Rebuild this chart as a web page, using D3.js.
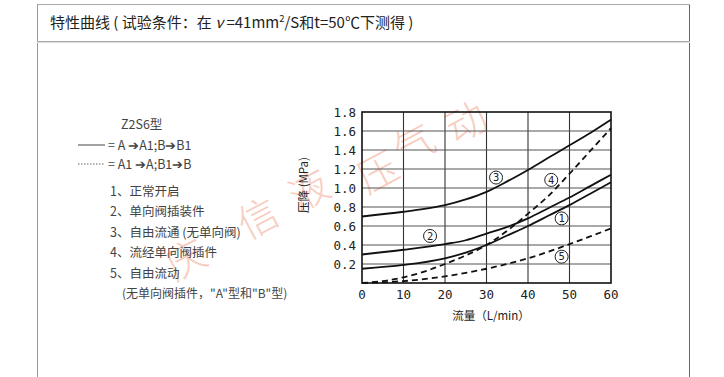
<!DOCTYPE html>
<html>
<head>
<meta charset="utf-8">
<script src="https://cdn.jsdelivr.net/npm/d3@7"></script>
<style>
  html, body { margin: 0; padding: 0; background: #fff; }
  svg { display: block; }
</style>
</head>
<body>
<svg id="chart" width="724" height="377"></svg>
<script>
// 特性曲线 · Z2S6 压降-流量
const xTicks = [0, 10, 20, 30, 40, 50, 60];
const yTicks = [0.2, 0.4, 0.6, 0.8, 1.0, 1.2, 1.4, 1.6, 1.8];

// 各曲线读数 [流量 L/min, 压降 MPa]
const curve1 = [[0, 0.15], [10, 0.19], [20, 0.26], [25, 0.32], [30, 0.40], [35, 0.50], [40, 0.60], [45, 0.71], [50, 0.82], [55, 0.94], [60, 1.06]];
const curve2 = [[0, 0.30], [10, 0.35], [20, 0.41], [25, 0.45], [30, 0.52], [35, 0.59], [40, 0.68], [45, 0.79], [50, 0.90], [55, 1.02], [60, 1.14]];
const curve3 = [[0, 0.70], [10, 0.75], [15, 0.78], [20, 0.82], [25, 0.88], [30, 0.96], [35, 1.07], [40, 1.19], [45, 1.32], [50, 1.45], [55, 1.58], [60, 1.72]];
const curve4 = [[0, 0.00], [5, 0.02], [10, 0.06], [15, 0.12], [20, 0.20], [25, 0.29], [30, 0.40], [35, 0.55], [40, 0.73], [45, 0.92], [50, 1.15], [55, 1.39], [60, 1.63]];
const curve5 = [[0, 0.00], [10, 0.02], [20, 0.07], [30, 0.15], [40, 0.26], [45, 0.33], [50, 0.41], [55, 0.49], [60, 0.575]];

const curveDefs = [
  { id: "1", pts: curve1, dashed: false, label: [48.1, 0.68] },
  { id: "2", pts: curve2, dashed: false, label: [16.4, 0.495] },
  { id: "3", pts: curve3, dashed: false, label: [32.3, 1.11] },
  { id: "4", pts: curve4, dashed: true, label: [45.6, 1.085] },
  { id: "5", pts: curve5, dashed: true, label: [48.1, 0.277] },
];

const legendLines = [
  "1、正常开启",
  "2、单向阀插装件",
  "3、自由流通 (无单向阀)",
  "4、流经单向阀插件",
  "5、自由流动",
];

const watermark = [["庆", 185, 257], ["信", 257, 216], ["液", 308, 188], ["压", 377, 170], ["气", 413, 142], ["动", 465, 120]];

const CJK = "'Noto Sans CJK SC', 'Noto Sans', sans-serif";
const MONO = "'DejaVu Sans Mono', 'Liberation Mono', monospace";

const svg = d3.select("#chart");

// 外框与标题栏
svg.append("line").attr("x1", 37.5).attr("x2", 37.5).attr("y1", 4).attr("y2", 377).attr("stroke", "#999");
svg.append("line").attr("x1", 689.5).attr("x2", 689.5).attr("y1", 4).attr("y2", 377).attr("stroke", "#666");
svg.append("line").attr("x1", 37).attr("x2", 690).attr("y1", 4.5).attr("y2", 4.5).attr("stroke", "#aaa");
svg.append("line").attr("x1", 37).attr("x2", 690).attr("y1", 41.5).attr("y2", 41.5).attr("stroke", "#aaa");
svg.append("line").attr("x1", 37).attr("x2", 690).attr("y1", 42.5).attr("y2", 42.5).attr("stroke", "#ddd");

const title = svg.append("text").attr("x", 50).attr("y", 28)
  .attr("style", `font:15px ${CJK};fill:#222`);
title.append("tspan").text("特性曲线 ( 试验条件：在 ");
title.append("tspan").attr("style", "font-style:italic").text("ν");
title.append("tspan").text(" =41mm");
title.append("tspan").attr("dy", -6).attr("style", "font-size:9.5px").text("2");
title.append("tspan").attr("dy", 6).text("/S和t=50℃下测得 )");

// 水印
watermark.forEach(([ch, x, y]) => {
  svg.append("text").attr("x", x).attr("y", y)
    .attr("text-anchor", "middle").attr("dominant-baseline", "central")
    .attr("transform", `rotate(-28 ${x} ${y})`)
    .attr("style", `font:300 40px ${CJK};fill:#f6b9a8;opacity:0.7`)
    .text(ch);
});

// 图例与说明
const LT = `font:12.5px ${CJK};fill:#444`;
svg.append("text").attr("x", 121).attr("y", 129).attr("style", LT).text("Z2S6型");
svg.append("line").attr("x1", 78).attr("x2", 105).attr("y1", 145).attr("y2", 145).attr("stroke", "#444").attr("stroke-width", 1);
svg.append("text").attr("x", 108).attr("y", 149.5).attr("style", LT).text("= A ➔A1;B➔B1");
svg.append("line").attr("x1", 78).attr("x2", 105).attr("y1", 164).attr("y2", 164).attr("stroke", "#666").attr("stroke-width", 1).attr("stroke-dasharray", "1.5 1.5");
svg.append("text").attr("x", 108).attr("y", 168.5).attr("style", LT).text("= A1 ➔A;B1➔B");
legendLines.forEach((t, i) => {
  svg.append("text").attr("x", 110).attr("y", 195.5 + i * 20.5).attr("style", LT).text(t);
});
svg.append("text").attr("x", 122).attr("y", 297.5).attr("style", `font:12px ${CJK};fill:#444`).text("(无单向阀插件，\"A\"型和\"B\"型)");

// 坐标
const x = d3.scaleLinear().domain([0, 60]).range([362, 611]);
const y = d3.scaleLinear().domain([0, 1.8]).range([283, 112]);

const grid = svg.append("g");
xTicks.slice(1, -1).forEach(v => {
  grid.append("line").attr("x1", x(v)).attr("x2", x(v)).attr("y1", y(0)).attr("y2", y(1.8))
    .attr("stroke", "#333").attr("stroke-width", 1.1);
});
yTicks.slice(0, -1).forEach(v => {
  grid.append("line").attr("x1", x(0)).attr("x2", x(60)).attr("y1", y(v)).attr("y2", y(v))
    .attr("stroke", "#555").attr("stroke-width", 1.1);
});
svg.append("rect").attr("x", x(0)).attr("y", y(1.8))
  .attr("width", x(60) - x(0)).attr("height", y(0) - y(1.8))
  .attr("fill", "none").attr("stroke", "#111").attr("stroke-width", 1.6);

// 刻度标签
const TK = `font:12.5px ${MONO};fill:#222`;
yTicks.forEach(v => {
  svg.append("text").attr("x", 356).attr("y", y(v) + 4.5)
    .attr("text-anchor", "end").attr("style", TK).text(v.toFixed(1));
});
xTicks.forEach(v => {
  svg.append("text").attr("x", x(v)).attr("y", 299)
    .attr("text-anchor", "middle").attr("style", TK).text(v);
});
svg.append("text").attr("x", 491).attr("y", 320).attr("text-anchor", "middle")
  .attr("style", `font:11.5px ${CJK};fill:#222`).text("流量（L/min）");
svg.append("text").attr("transform", "translate(308,185) rotate(-90)").attr("text-anchor", "middle")
  .attr("style", `font:11.5px ${CJK};fill:#222`).text("压降 (MPa)");

// 曲线
const line = d3.line().x(d => x(d[0])).y(d => y(d[1])).curve(d3.curveMonotoneX);
curveDefs.forEach(c => {
  svg.append("path").attr("d", line(c.pts)).attr("fill", "none")
    .attr("stroke", "#111").attr("stroke-width", 1.8)
    .attr("stroke-dasharray", c.dashed ? "6 4" : null);
});

// 圈号
curveDefs.forEach(c => {
  const cx = x(c.label[0]), cy = y(c.label[1]);
  svg.append("circle").attr("cx", cx).attr("cy", cy).attr("r", 6.5)
    .attr("fill", "#fff").attr("stroke", "#222").attr("stroke-width", 1);
  svg.append("text").attr("x", cx).attr("y", cy + 3.8).attr("text-anchor", "middle")
    .attr("style", `font:10.5px ${MONO};fill:#222`).text(c.id);
});
</script>
</body>
</html>
